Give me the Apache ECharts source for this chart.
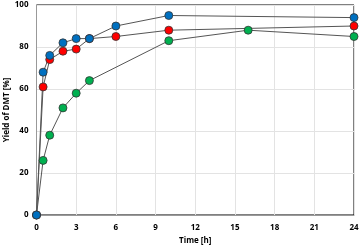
<!DOCTYPE html>
<html><head><meta charset="utf-8">
<script src="https://cdn.jsdelivr.net/npm/echarts@6/dist/echarts.min.js"></script>
<style>html,body{margin:0;padding:0;background:#fff}#c{width:361px;height:249px}</style>
</head><body><div id="c"></div>
<script>
const xAxisTicks = [0, 3, 6, 9, 12, 15, 18, 21, 24];
const yAxisTicks = [0, 20, 40, 60, 80, 100];
const timeBlue = [0, 0.5, 1, 2, 3, 4, 6, 10, 24];
const yieldBlue = [0, 68, 76, 82, 84, 84, 90, 95, 94];
const timeRed = [0, 0.5, 1, 2, 3, 4, 6, 10, 24];
const yieldRed = [0, 61, 74, 78, 79, 84, 85, 88, 90];
const timeGreen = [0, 0.5, 1, 2, 3, 4, 10, 16, 24];
const yieldGreen = [0, 26, 38, 51, 58, 64, 83, 88, 85];

const zip = (xs, ys) => xs.map((x, i) => [x, ys[i]]);
const font = 'Open Sans';
function series(name, xs, ys, color) {
  return {
    name, type: 'line', data: zip(xs, ys),
    symbol: 'circle', symbolSize: 8,
    lineStyle: { color: '#555', width: 1 },
    itemStyle: { color, borderColor: '#333', borderWidth: 0.8 },
    emphasis: { disabled: true }, animation: false
  };
}
const chart = echarts.init(document.getElementById('c'));
chart.setOption({
  animation: false,
  grid: { left: 36.5, right: 7, top: 5, bottom: 34, containLabel: false, outerBoundsMode: 'none',
          show: true, borderColor: '#000', borderWidth: 1 },
  xAxis: {
    type: 'value', min: 0, max: 24, interval: 3,
    name: 'Time [h]', nameLocation: 'middle', nameGap: 22, nameMoveOverlap: false,
    nameTextStyle: { fontFamily: font, fontWeight: 'bold', fontSize: 8, color: '#000' },
    axisLine: { lineStyle: { color: '#999' } }, axisTick: { show: false },
    axisLabel: { fontFamily: font, fontWeight: 'bold', fontSize: 8, color: '#000', margin: 9 },
    splitLine: { lineStyle: { color: '#e3e3e3' } }
  },
  yAxis: {
    type: 'value', min: 0, max: 100, interval: 20,
    name: 'Yield of DMT [%]', nameLocation: 'middle', nameGap: 26, nameMoveOverlap: false,
    nameTextStyle: { fontFamily: font, fontWeight: 'bold', fontSize: 8, color: '#000' },
    axisLine: { show: true, lineStyle: { color: '#999' } }, axisTick: { show: false },
    axisLabel: { fontFamily: font, fontWeight: 'bold', fontSize: 8, color: '#000', margin: 8 },
    splitLine: { lineStyle: { color: '#e3e3e3' } }
  },
  series: [
    series('Green', timeGreen, yieldGreen, '#00B050'),
    series('Red', timeRed, yieldRed, '#FF0000'),
    series('Blue', timeBlue, yieldBlue, '#0070C0')
  ]
});
</script></body></html>
